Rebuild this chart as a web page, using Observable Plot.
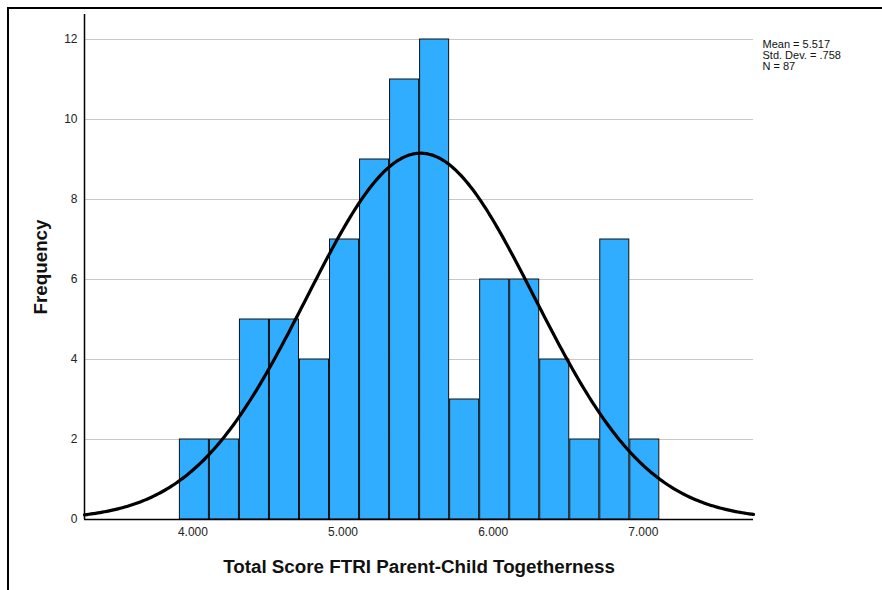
<!DOCTYPE html>
<html>
<head>
<meta charset="utf-8">
<script src="https://cdn.jsdelivr.net/npm/d3@7"></script>
<script src="https://cdn.jsdelivr.net/npm/@observablehq/plot@0.6"></script>
<style>
  html, body { margin: 0; padding: 0; background: #fff; }
  #wrap { position: relative; width: 882px; height: 590px; overflow: hidden; }
  #frame { position: absolute; left: 7px; top: 7px; width: 880px; height: 590px;
           border-left: 2px solid #000; border-top: 2px solid #000; pointer-events: none; }
</style>
</head>
<body>
<div id="wrap"><div id="chart"></div><div id="frame"></div></div>
<script>
// Histogram bins (lower edges, width 0.2) and frequencies
const binLow = [3.91, 4.11, 4.31, 4.51, 4.71, 4.91, 5.11, 5.31, 5.51, 5.71, 5.91, 6.11, 6.31, 6.51, 6.71, 6.91];
const binWidth = 0.2;
const counts = [2, 2, 5, 5, 4, 7, 9, 11, 12, 3, 6, 6, 4, 2, 7, 2];

// Summary statistics
const statMean = 5.517;
const statSD = 0.758;
const statN = 87;
const statLines = ["Mean = 5.517", "Std. Dev. = .758", "N = 87"];

// Axes
const xTicks = [4, 5, 6, 7];
const xTickLabels = ["4.000", "5.000", "6.000", "7.000"];
const yTicks = [0, 2, 4, 6, 8, 10, 12];
const xDomain = [3.278, 7.734];
const yDomain = [0, 12.625];
const xTitle = "Total Score FTRI Parent-Child Togetherness";
const yTitle = "Frequency";

const bins = binLow.map((x, i) => ({x1: x, x2: x + binWidth, count: counts[i]}));

// Fitted normal curve from the reported mean / SD / N
const scaleK = statN * binWidth / (statSD * Math.sqrt(2 * Math.PI));
const curve = d3.range(0, 301).map(i => {
  const x = xDomain[0] + (xDomain[1] - xDomain[0]) * i / 300;
  const z = (x - statMean) / statSD;
  return {x, y: scaleK * Math.exp(-0.5 * z * z)};
});

const font = "'Liberation Sans', Arial, sans-serif";

const chart = Plot.plot({
  width: 882,
  height: 590,
  marginLeft: 84,
  marginRight: 129,
  marginTop: 14,
  marginBottom: 71,
  style: {fontFamily: font, fontSize: "12px", color: "#222", background: "#fff"},
  x: {domain: xDomain, ticks: xTicks, tickFormat: (d) => xTickLabels[xTicks.indexOf(d)], tickSize: 0, tickPadding: 8, label: null},
  y: {domain: yDomain, ticks: yTicks, tickSize: 0, tickPadding: 7, label: null},
  marks: [
    Plot.ruleY(yTicks.filter(d => d > 0), {stroke: "#c8c8c8", strokeWidth: 1}),
    Plot.rectY(bins, {x1: "x1", x2: "x2", y1: 0, y2: "count", fill: "#31adff", stroke: "#111", strokeWidth: 1, insetLeft: 0.5, insetRight: 0.5}),
    Plot.line(curve, {x: "x", y: "y", stroke: "#000", strokeWidth: 3.2, curve: "linear"}),
    Plot.ruleX([xDomain[0]], {stroke: "#000", strokeWidth: 1.5}),
    Plot.ruleY([0], {stroke: "#000", strokeWidth: 1.5}),
    Plot.text([statLines.join("\n")], {frameAnchor: "top-right", textAnchor: "start", lineAnchor: "top", dx: 9, dy: 26, lineHeight: 1.0, fontSize: 11, fill: "#111"}),
    Plot.text([xTitle], {frameAnchor: "bottom", dy: 53, fontSize: 18.8, fontWeight: "bold", fill: "#111"}),
    Plot.text([yTitle], {frameAnchor: "left", textAnchor: "middle", dx: -44, rotate: -90, fontSize: 18.8, fontWeight: "bold", fill: "#111"})
  ]
});
document.getElementById("chart").appendChild(chart);
</script>
</body>
</html>
